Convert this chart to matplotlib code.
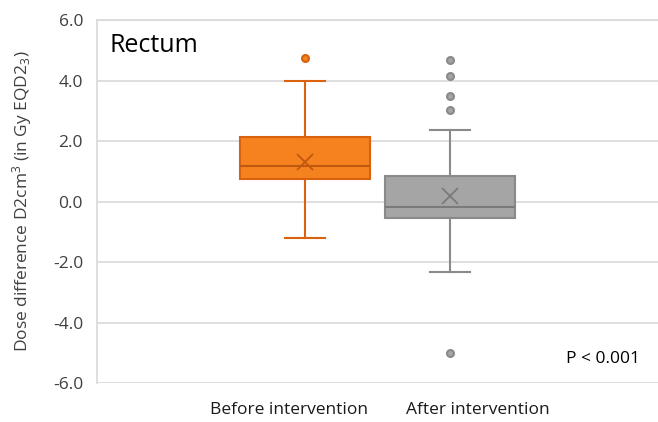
import matplotlib
matplotlib.use('Agg')
import matplotlib.pyplot as plt

plt.rcParams['font.family'] = ['Open Sans', 'DejaVu Sans']
plt.rcParams['mathtext.default'] = 'regular'

# box stats
groups = ['Before intervention', 'After intervention']
q1 = [0.73, -0.53]
med = [1.19, -0.17]
q3 = [2.12, 0.83]
mean = [1.32, 0.17]
whislo = [-1.19, -2.32]
whishi = [4.0, 2.35]
fliers = [[4.73], [4.67, 4.14, 3.48, 3.01, -5.0]]

fills = ['#F5821F', '#A5A5A5']
edges = ['#D9620E', '#8A8A8A']
dark = ['#C0580F', '#7A7A7A']

fig = plt.figure(figsize=(6.58, 4.22), dpi=100)
ax = fig.add_axes([0.1474, 0.0924, 0.8526, 0.8602])

for i in range(len(groups)):
    st = [dict(q1=q1[i], med=med[i], q3=q3[i], mean=mean[i],
               whislo=whislo[i], whishi=whishi[i], fliers=fliers[i], label=groups[i])]
    ax.bxp(st, positions=[i], widths=0.9, patch_artist=True, showmeans=True,
           boxprops=dict(facecolor=fills[i], edgecolor=edges[i], linewidth=1.5),
           medianprops=dict(color=dark[i], linewidth=1.5),
           whiskerprops=dict(color=edges[i], linewidth=1.5),
           capprops=dict(color=edges[i], linewidth=1.5),
           capwidths=0.27,
           meanprops=dict(marker='x', markeredgecolor=dark[i], markersize=12,
                          markeredgewidth=1.3),
           flierprops=dict(marker='o', markerfacecolor=fills[i],
                           markeredgecolor=edges[i], markersize=5, markeredgewidth=1.5),
           zorder=3)

ax.set_xlim(-1.434, 2.434)
ax.set_ylim(-6, 6)
ax.set_yticks([-6, -4, -2, 0, 2, 4, 6])
ax.set_yticklabels(['%.1f' % v for v in [-6, -4, -2, 0, 2, 4, 6]], fontsize=12.5, color='#404040')
# excel puts the category labels a bit off the box centres
ax.set_xticks([-0.11, 1.19])
ax.set_xticklabels(groups, fontsize=12.5, color='#1a1a1a')
ax.tick_params(length=0)
ax.tick_params(axis='y', pad=10)
ax.tick_params(axis='x', pad=14)
ax.grid(axis='y', color='#D9D9D9', linewidth=1.2, zorder=0)
ax.set_axisbelow(True)
for s in ['right', 'bottom']:
    ax.spines[s].set_visible(False)
for s in ['left', 'top']:
    ax.spines[s].set_color('#D9D9D9')
    ax.spines[s].set_linewidth(1.2)

ax.set_ylabel('Dose difference D2cm$^3$ (in Gy EQD2$_3$)', fontsize=12.5, color='#404040')
ax.yaxis.set_label_coords(-0.112, 0.5)
ax.text(0.023, 0.965, 'Rectum', transform=ax.transAxes, fontsize=18, va='top', ha='left')
ax.text(0.968, 0.065, 'P < 0.001', transform=ax.transAxes, fontsize=12.5, va='center', ha='right')

fig.savefig('out.png', dpi=100)
